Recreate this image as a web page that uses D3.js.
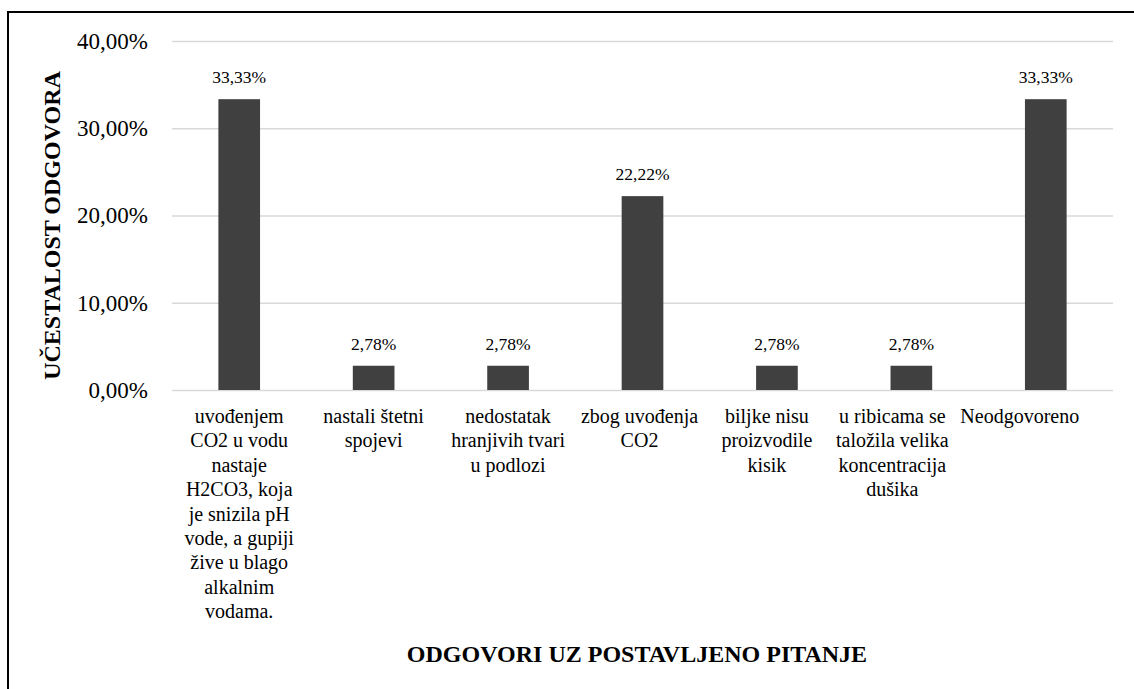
<!DOCTYPE html>
<html>
<head>
<meta charset="utf-8">
<script src="https://cdn.jsdelivr.net/npm/d3@7"></script>
<style>
  html, body { margin: 0; padding: 0; background: #fff; }
</style>
</head>
<body>
<script>
// Odgovori uz postavljeno pitanje -- stupčasti graf

var WIDTH  = 1134;
var HEIGHT = 689;
var FONT = "'Liberation Serif', 'Times New Roman', Times, serif";

// kategorije (po redovima, kako su prelomljene na slici)
var CATEGORIES = [
  ["uvođenjem", "CO2 u vodu", "nastaje", "H2CO3, koja", "je snizila pH", "vode, a gupiji", "žive u blago", "alkalnim", "vodama."],
  ["nastali štetni", "spojevi"],
  ["nedostatak", "hranjivih tvari", "u podlozi"],
  ["zbog uvođenja", "CO2"],
  ["biljke nisu", "proizvodile", "kisik"],
  ["u ribicama se", "taložila velika", "koncentracija", "dušika"],
  ["Neodgovoreno"]
];
var VALUES = [33.33, 2.78, 2.78, 22.22, 2.78, 2.78, 33.33];
var Y_TICKS = [0, 10, 20, 30, 40];

var Y_TITLE = "UČESTALOST ODGOVORA";
var X_TITLE = "ODGOVORI UZ POSTAVLJENO PITANJE";

// Excel pomiče desne oznake kategorija malo ulijevo
var LABEL_DX = [0, 0, 0, -3, -10, -19, -26];

var margin = {left: 172, right: 21, top: 41, bottom: 299};

var svg = d3.select('body').append('svg')
            .attr('width', WIDTH)
            .attr('height', HEIGHT)
            .style('font-family', FONT);

// okvir (desni i donji rub izlaze izvan slike)
svg.append('rect')
   .attr('x', 8).attr('y', 12)
   .attr('width', WIDTH + 20).attr('height', HEIGHT + 20)
   .attr('fill', 'none')
   .attr('stroke', '#000')
   .attr('stroke-width', 2);

var x = d3.scaleBand()
          .domain(d3.range(VALUES.length))
          .range([margin.left, WIDTH - margin.right])
          .paddingInner(0.69)
          .paddingOuter(0.345);

var y = d3.scaleLinear()
          .domain([0, 40])
          .range([HEIGHT - margin.bottom, margin.top]);

var fmt = d => d3.format('.2f')(d).replace('.', ',') + '%';

// mreža i oznake osi y
var yAxis = d3.axisLeft(y)
              .tickValues(Y_TICKS)
              .tickSize(-(WIDTH - margin.left - margin.right))
              .tickPadding(24)
              .tickFormat(fmt);

var gy = svg.append('g')
            .attr('transform', `translate(${margin.left},0)`)
            .call(yAxis);
gy.select('.domain').remove();
gy.selectAll('line').attr('stroke', '#d9d9d9').attr('stroke-width', 1.5);
gy.selectAll('text')
  .style('font-family', FONT)
  .style('font-size', '23px')
  .attr('fill', '#000');

// stupci
svg.selectAll('rect.bar')
   .data(VALUES)
   .enter()
   .append('rect')
   .attr('class', 'bar')
   .attr('x', (d, i) => x(i))
   .attr('y', d => y(d))
   .attr('width', x.bandwidth())
   .attr('height', d => y(0) - y(d))
   .attr('fill', '#404040');

// vrijednosti iznad stupaca
svg.selectAll('text.val')
   .data(VALUES)
   .enter()
   .append('text')
   .attr('class', 'val')
   .attr('x', (d, i) => x(i) + x.bandwidth() / 2)
   .attr('y', d => y(d) - 16)
   .attr('text-anchor', 'middle')
   .style('font-family', FONT)
   .style('font-size', '17.5px')
   .text(fmt);

// nazivi kategorija
var cat = svg.selectAll('text.cat')
             .data(CATEGORIES)
             .enter()
             .append('text')
             .attr('class', 'cat')
             .attr('text-anchor', 'middle')
             .style('font-family', FONT)
             .style('font-size', '20px');

cat.selectAll('tspan')
   .data((d, i) => d.map(line => ({line: line, i: i})))
   .enter()
   .append('tspan')
   .attr('x', d => x(d.i) + x.bandwidth() / 2 + LABEL_DX[d.i])
   .attr('y', (d, j) => y(0) + 33 + j * 24.4)
   .text(d => d.line);

// naslovi osi
svg.append('text')
   .attr('transform', `translate(60,${(y(0) + y(40)) / 2 + 10}) rotate(-90)`)
   .attr('text-anchor', 'middle')
   .style('font-family', FONT)
   .style('font-size', '24px')
   .style('font-weight', 'bold')
   .text(Y_TITLE);

svg.append('text')
   .attr('x', 637)
   .attr('y', 662)
   .attr('text-anchor', 'middle')
   .style('font-family', FONT)
   .style('font-size', '24px')
   .style('font-weight', 'bold')
   .text(X_TITLE);
</script>
</body>
</html>
